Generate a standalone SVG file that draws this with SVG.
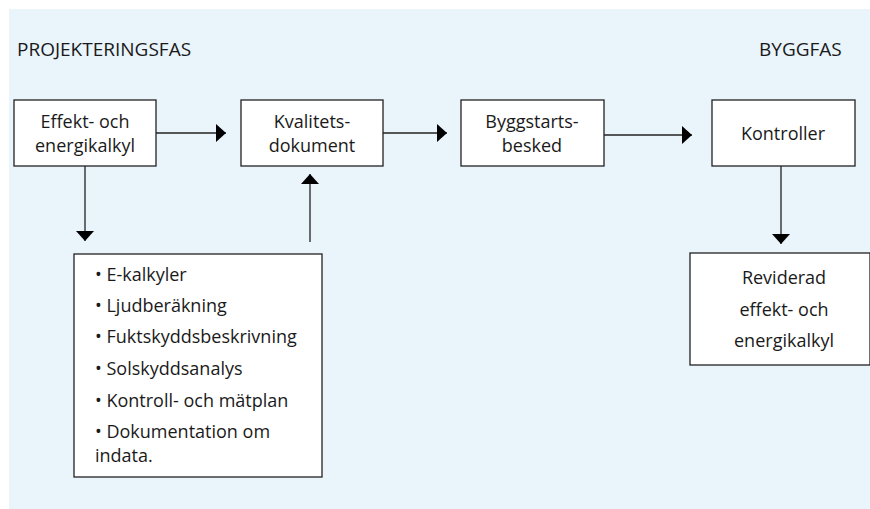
<svg xmlns="http://www.w3.org/2000/svg" width="870" height="509" viewBox="0 0 870 509">
<defs>
<style>
.bg{fill:#eaf4fb}
.box{fill:#fff;stroke:#222;stroke-width:1.3}
.t{font-family:"Open Sans","Liberation Sans",sans-serif;font-size:18px;fill:#1a1a1a}
.c{text-anchor:middle}
.h{font-family:"Open Sans","Liberation Sans",sans-serif;font-size:19px;fill:#1a1a1a}
.ln{stroke:#222;stroke-width:1.3;fill:none}
</style>
<marker id="ah2" viewBox="0 0 10 20" refX="10" refY="10" markerWidth="10" markerHeight="20" markerUnits="userSpaceOnUse" orient="auto">
<path d="M0,1 L10,10 L0,19 Z" fill="#000"/>
</marker>
</defs>
<rect class="bg" x="9" y="9" width="861" height="500"/>
<text class="h" x="17" y="56">PROJEKTERINGSFAS</text>
<text class="h" x="759" y="56">BYGGFAS</text>
<g id="connectors">
<line class="ln" x1="156" y1="133" x2="226" y2="133" marker-end="url(#ah2)"/>
<line class="ln" x1="383" y1="133" x2="447" y2="133" marker-end="url(#ah2)"/>
<line class="ln" x1="604" y1="135" x2="692" y2="135" marker-end="url(#ah2)"/>
<line class="ln" x1="85" y1="166" x2="85" y2="241" marker-end="url(#ah2)"/>
<line class="ln" x1="310" y1="242" x2="310" y2="174" marker-end="url(#ah2)"/>
<line class="ln" x1="781" y1="166" x2="781" y2="244" marker-end="url(#ah2)"/>
</g>
<g id="n1">
<rect class="box" x="14" y="100" width="142" height="66"/>
<text class="t c" x="85" y="128">Effekt- och</text>
<text class="t c" x="85" y="152">energikalkyl</text>
</g>
<g id="n2">
<rect class="box" x="241" y="100" width="142" height="66"/>
<text class="t c" x="312" y="128">Kvalitets-</text>
<text class="t c" x="312" y="152">dokument</text>
</g>
<g id="n3">
<rect class="box" x="461" y="100" width="143" height="66"/>
<text class="t c" x="532" y="128">Byggstarts-</text>
<text class="t c" x="532" y="152">besked</text>
</g>
<g id="n4">
<rect class="box" x="712" y="100" width="143" height="66"/>
<text class="t c" x="783" y="140">Kontroller</text>
</g>
<g id="n5">
<rect class="box" x="74" y="254" width="248" height="223"/>
<text class="t" x="95" y="281">• E-kalkyler</text>
<text class="t" x="95" y="312">• Ljudberäkning</text>
<text class="t" x="95" y="343">• Fuktskyddsbeskrivning</text>
<text class="t" x="95" y="375">• Solskyddsanalys</text>
<text class="t" x="95" y="407">• Kontroll- och mätplan</text>
<text class="t" x="95" y="438">• Dokumentation om</text>
<text class="t" x="95" y="462">indata.</text>
</g>
<g id="n6">
<rect class="box" x="690" y="253" width="180" height="112"/>
<text class="t c" x="784" y="284">Reviderad</text>
<text class="t c" x="784" y="316">effekt- och</text>
<text class="t c" x="784" y="347">energikalkyl</text>
</g>
</svg>
